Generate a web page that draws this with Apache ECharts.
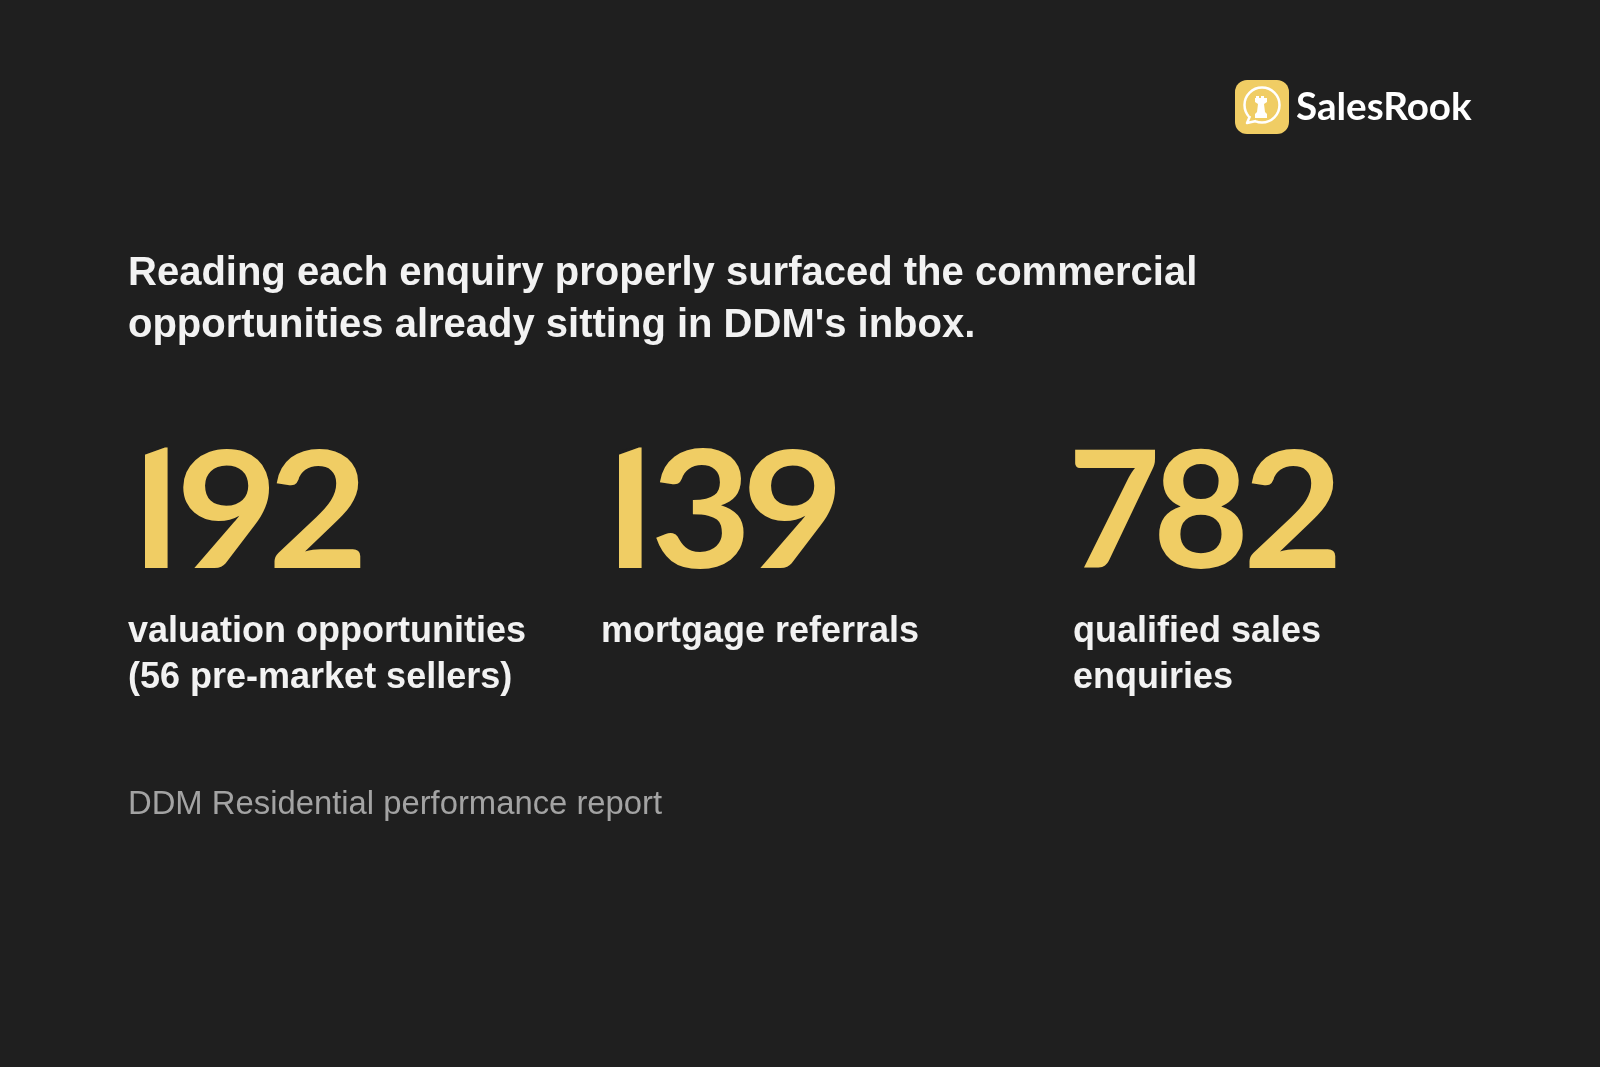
<!DOCTYPE html>
<html>
<head>
<meta charset="utf-8">
<style>html,body{margin:0;padding:0;background:#1f1f1f}#main{width:1600px;height:1067px}</style>
<script src="https://cdn.jsdelivr.net/npm/echarts@6/dist/echarts.min.js"></script>
</head>
<body>
<div id="main"></div>
<script>
const headline = ["Reading each enquiry properly surfaced the commercial", "opportunities already sitting in DDM's inbox."];
const statValues = ["192", "139", "782"];
const statLabels = [
  ["valuation opportunities", "(56 pre-market sellers)"],
  ["mortgage referrals"],
  ["qualified sales", "enquiries"]
];
const sourceText = "DDM Residential performance report";
const brand = "SalesRook";

// layout only: left edge of each stat column, centre of each big digit
const statX = [128, 601, 1073];
const digitX = [[150, 227, 318], [624, 701, 793], [1114, 1201, 1293]];
const digitStretch = { 2: 1.06, 3: 1.07, 7: 0.98, 8: 1.02, 9: 1.08 };

const sans = '"Liberation Sans", Arial, sans-serif';
const gold = '#f0cd64';
const bg = '#1f1f1f';

const chart = echarts.init(document.getElementById('main'));
let els = [];

headline.forEach((t, i) => els.push({
  type: 'text', x: 128, y: 274 + i * 52,
  style: { text: t, fill: '#f2f2f2', font: 'bold 40px ' + sans, textVerticalAlign: 'middle' }
}));

statValues.forEach((v, i) => {
  // digits sit tighter than any installed font, so each one is placed on its own
  v.split('').forEach((d, k) => {
    const x = digitX[i][k];
    if (d === '1') {
      els.push({
        type: 'text', x: x, y: 526,
        style: { text: d, fill: gold, textAlign: 'center', textVerticalAlign: 'middle', font: 'bold 168px Roboto, sans-serif' }
      });
      // the reference 1 has no flag: mask it and slant the top of the stem
      els.push({ type: 'rect', shape: { x: x - 40, y: 435, width: 35, height: 140 }, style: { fill: bg } });
      els.push({ type: 'polygon', shape: { points: [[x - 6, 440], [x + 20, 440], [x + 20, 445], [x - 6, 451]] }, style: { fill: bg } });
    } else {
      els.push({
        type: 'text', x: x, y: 515, scaleX: digitStretch[d] || 1,
        style: { text: d, fill: gold, textAlign: 'center', textVerticalAlign: 'middle', font: 'bold 163px Lato, sans-serif' }
      });
    }
  });
  statLabels[i].forEach((t, j) => els.push({
    type: 'text', x: statX[i], y: 632 + j * 46.5,
    style: { text: t, fill: '#f2f2f2', font: 'bold 36px ' + sans, textVerticalAlign: 'middle' }
  }));
});

els.push({
  type: 'text', x: 128, y: 804.5,
  style: { text: sourceText, fill: '#a3a3a3', font: '32.8px ' + sans, textVerticalAlign: 'middle' }
});

// logo: rounded tile, speech bubble, rook
els.push({ type: 'rect', shape: { x: 1235, y: 80, width: 54, height: 54, r: 12 }, style: { fill: gold } });
els.push({ type: 'circle', shape: { cx: 1262, cy: 105, r: 17.5 }, style: { fill: gold, stroke: '#fff', lineWidth: 2.5 } });
els.push({ type: 'polygon', shape: { points: [[1250, 114], [1247, 123], [1257, 120], [1256, 115]] }, style: { fill: gold } });
els.push({ type: 'polyline', shape: { points: [[1250, 116], [1247, 123], [1256, 121]] }, style: { fill: 'none', stroke: '#fff', lineWidth: 2.5, lineJoin: 'round' } });
els.push({
  type: 'polygon',
  shape: { points: [[1256, 96], [1259, 96], [1259, 98], [1261, 98], [1261, 96], [1264, 96], [1264, 98], [1267, 98], [1267, 102], [1264, 104], [1265, 112], [1267, 114], [1267, 118], [1255, 118], [1255, 114], [1257, 112], [1258, 104], [1255, 102], [1255, 98], [1256, 98]] },
  style: { fill: '#fff' }
});
els.push({
  type: 'text', x: 1296, y: 108,
  style: { text: brand, fill: '#fff', font: 'bold 38.6px Lato, sans-serif', textVerticalAlign: 'middle' }
});

chart.setOption({
  backgroundColor: bg,
  animation: false,
  graphic: { elements: els }
});
</script>
</body>
</html>
